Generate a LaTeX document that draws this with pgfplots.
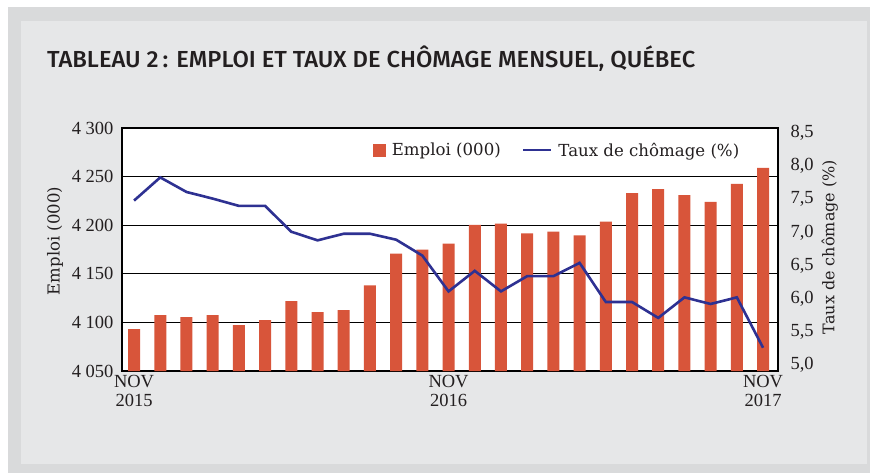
\documentclass[border=0pt]{standalone}
\usepackage{pgfplots}
\pgfplotsset{compat=1.18}
\usepackage{fontspec}
\usepackage{graphicx}
\setmainfont{DejaVu Serif}
\newfontfamily\tickfont{Liberation Serif}
\newfontfamily\titlefont{Fira Sans}[UprightFont={* Medium}]
\definecolor{outerframe}{HTML}{D9DADB}
\definecolor{innerbg}{HTML}{E6E7E8}
\definecolor{barcol}{HTML}{D8553A}
\definecolor{linecol}{HTML}{2E3192}
\definecolor{txt}{HTML}{231F20}

\begin{document}
\begin{tikzpicture}
\useasboundingbox (0,0) rectangle (870bp,-473bp);
\fill[white] (0,0) rectangle (870bp,-473bp);
\fill[outerframe] (8bp,-7bp) rectangle (870bp,-473bp);
\fill[innerbg] (21bp,-21bp) rectangle (867bp,-464bp);
\node[anchor=base west, inner sep=0pt, text=txt] at (47bp,-67.3bp) {\resizebox{648bp}{\height}{\titlefont\fontsize{23.2bp}{24bp}\selectfont TABLEAU 2\,: EMPLOI ET TAUX DE CHÔMAGE MENSUEL, QUÉBEC}};

\begin{axis}[
 at={(122bp,-371bp)}, anchor=south west,
 width=656bp, height=243bp, scale only axis,
 xmin=-0.46, xmax=24.57, ymin=4050, ymax=4300,
 ytick={4050,4100,...,4300},
 xtick={0,12,24}, xticklabels={{NOV\\2015},{NOV\\2016},{NOV\\2017}},
 major tick length=0pt,
 ymajorgrids, grid style={black, line width=1.3bp},
 axis line style={black, line width=1.4bp},
 axis background/.style={fill=white},
 tick label style={font=\tickfont\fontsize{18.5bp}{19bp}\selectfont, text=txt},
 /pgf/number format/assume math mode=true,
 /pgf/number format/1000 sep={\ },
 xticklabel style={align=center, yshift=-1bp},
 yticklabel style={xshift=-5bp},
 ylabel={Emploi (000)},
 ylabel style={at={(axis description cs:-0.102,0.535)}, anchor=center, font=\fontsize{16.5bp}{18bp}\selectfont, text=txt},
]
\addplot[ybar, bar width=12bp, fill=barcol, draw=none] coordinates {
(0,4093.2) (1,4107.5) (2,4105.4) (3,4107.5) (4,4097.3) (5,4102.4)
(6,4121.8) (7,4110.5) (8,4112.6) (9,4138.1) (10,4170.7) (11,4174.8)
(12,4181.0) (13,4200.3) (14,4201.7) (15,4191.5) (16,4193.5) (17,4189.5)
(18,4203.8) (19,4233.0) (20,4237.0) (21,4231.0) (22,4224.0) (23,4242.5)
(24,4259.0)};
\end{axis}

\begin{axis}[
 at={(122bp,-371bp)}, anchor=south west,
 width=656bp, height=243bp, scale only axis,
 xmin=-0.46, xmax=24.57, ymin=4.909, ymax=8.575,
 axis x line=none, axis y line*=right,
 axis line style={draw=none},
 ytick={5,5.5,6,6.5,7,7.5,8,8.5},
 major tick length=0pt,
 /pgf/number format/assume math mode=true,
 yticklabel style={font=\tickfont\fontsize{18.5bp}{19bp}\selectfont, text=txt, xshift=9bp,
   /pgf/number format/.cd, fixed, fixed zerofill, precision=1, use comma},
 ylabel={Taux de chômage (\%)},
 ylabel style={at={(axis description cs:1.079,0.51)}, anchor=center, font=\fontsize{16bp}{18bp}\selectfont, text=txt},
 legend columns=2,
 legend style={at={(axis description cs:0.383,0.909)}, anchor=west, draw=none, fill=none,
   inner sep=0pt, font=\fontsize{16.6bp}{18bp}\selectfont, text=txt,
   nodes={inner xsep=1bp},
   /tikz/every odd column/.style={column sep=5bp},
   /tikz/every even column/.style={column sep=20bp}},
]
\addlegendimage{legend image code/.code={\fill[barcol] (0bp,-6bp) rectangle (12bp,6bp);}}
\addlegendentry{Emploi (000)}
\addplot[linecol, line width=2.6bp, mark=none, legend image code/.code={\draw[linecol, line width=2.6bp] (0bp,0bp) -- (28bp,0bp);}] coordinates {
(0,7.48) (1,7.83) (2,7.61) (3,7.51) (4,7.40) (5,7.40)
(6,7.01) (7,6.88) (8,6.98) (9,6.98) (10,6.89) (11,6.65)
(12,6.11) (13,6.42) (14,6.11) (15,6.34) (16,6.34) (17,6.54)
(18,5.95) (19,5.95) (20,5.71) (21,6.02) (22,5.92) (23,6.02)
(24,5.26)};
\addlegendentry{Taux de chômage (\%)}
\end{axis}
\end{tikzpicture}
\end{document}
